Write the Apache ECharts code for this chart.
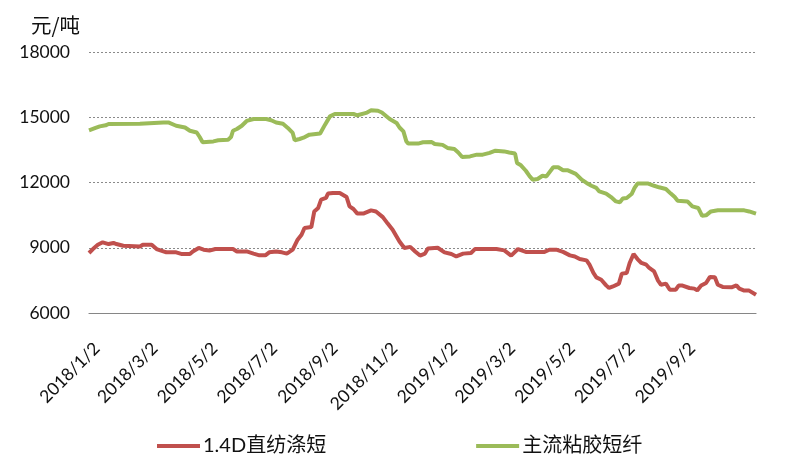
<!DOCTYPE html>
<html>
<head>
<meta charset="utf-8">
<script src="https://cdn.jsdelivr.net/npm/echarts@6/dist/echarts.min.js"></script>
<style>
html,body{margin:0;padding:0;background:#fff;}
#chart{width:787px;height:459px;}
</style>
</head>
<body>
<div id="chart"></div>
<script>
// ---- data ----
const axisStart = '2017/12/19';
const axisEnd = '2019/10/31';
const tickLabels = ['2018/1/2','2018/3/2','2018/5/2','2018/7/2','2018/9/2','2018/11/2','2019/1/2','2019/3/2','2019/5/2','2019/7/2','2019/9/2'];
const seriesNames = ['1.4D直纺涤短', '主流粘胶短纤'];
const yTicks = [6000, 9000, 12000, 15000, 18000];

const pscDates = [
 '2017/12/19','2017/12/23','2017/12/28','2018/1/2','2018/1/8','2018/1/13','2018/1/16','2018/1/23',
 '2018/2/9','2018/2/12','2018/2/21','2018/2/26','2018/3/8','2018/3/18','2018/3/24','2018/4/1',
 '2018/4/4','2018/4/10','2018/4/15','2018/4/21','2018/4/27','2018/5/15','2018/5/19','2018/5/29',
 '2018/6/5','2018/6/11','2018/6/17','2018/6/21','2018/6/28','2018/7/4','2018/7/9','2018/7/15',
 '2018/7/20','2018/7/24','2018/7/27','2018/8/3','2018/8/6','2018/8/10','2018/8/13','2018/8/18',
 '2018/8/20','2018/8/25','2018/9/1','2018/9/8','2018/9/11','2018/9/15','2018/9/19','2018/9/25',
 '2018/10/3','2018/10/8','2018/10/15','2018/10/20','2018/10/25','2018/11/1','2018/11/6','2018/11/12',
 '2018/11/17','2018/11/22','2018/11/27','2018/11/30','2018/12/10','2018/12/17','2018/12/24','2018/12/29',
 '2019/1/5','2019/1/13','2019/1/17','2019/2/8','2019/2/16','2019/2/23','2019/3/2','2019/3/10',
 '2019/3/29','2019/4/3','2019/4/10','2019/4/17','2019/4/24','2019/4/29','2019/5/4','2019/5/11',
 '2019/5/14','2019/5/18','2019/5/21','2019/5/26','2019/5/31','2019/6/3','2019/6/7','2019/6/13',
 '2019/6/16','2019/6/21','2019/6/24','2019/6/28','2019/7/2','2019/7/6','2019/7/11','2019/7/14',
 '2019/7/19','2019/7/23','2019/7/26','2019/7/31','2019/8/4','2019/8/10','2019/8/13','2019/8/17',
 '2019/8/24','2019/8/29','2019/9/1','2019/9/5','2019/9/10','2019/9/14','2019/9/19','2019/9/22',
 '2019/9/27','2019/10/6','2019/10/11','2019/10/14','2019/10/19','2019/10/24','2019/10/31'
];
const pscValues = [
 8760,8940,9140,9250,9170,9220,9170,9090,
 9060,9140,9140,8940,8790,8790,8710,8710,
 8830,8990,8910,8870,8940,8940,8830,8830,
 8730,8650,8650,8790,8830,8790,8730,8910,
 9370,9600,9910,9950,10670,10830,11210,11290,
 11490,11520,11520,11330,10900,10780,10570,10570,
 10720,10670,10410,10110,9830,9290,8990,9040,
 8830,8640,8730,8970,9000,8790,8710,8600,
 8730,8760,8940,8940,8880,8640,8940,8810,
 8810,8910,8910,8810,8650,8600,8480,8420,
 8220,7840,7640,7530,7270,7150,7220,7350,
 7810,7840,8300,8710,8480,8300,8220,8070,
 7910,7490,7300,7350,7070,7070,7260,7260,
 7150,7120,7040,7260,7380,7660,7640,7300,
 7200,7180,7270,7120,7030,7030,6840
];

const vsfDates = [
 '2017/12/19','2017/12/25','2017/12/30','2018/1/5','2018/1/8','2018/2/9','2018/3/5','2018/3/10',
 '2018/3/18','2018/3/27','2018/4/1','2018/4/8','2018/4/11','2018/4/14','2018/4/25','2018/4/30',
 '2018/5/10','2018/5/13','2018/5/15','2018/5/19','2018/5/24','2018/5/29','2018/6/5','2018/6/18',
 '2018/6/23','2018/6/28','2018/7/5','2018/7/10','2018/7/15','2018/7/17','2018/7/22','2018/7/26',
 '2018/8/1','2018/8/12','2018/8/17','2018/8/22','2018/8/27','2018/9/15','2018/9/19','2018/9/21',
 '2018/9/28','2018/10/3','2018/10/10','2018/10/14','2018/10/22','2018/10/29','2018/11/1','2018/11/5',
 '2018/11/8','2018/11/10','2018/11/20','2018/11/25','2018/12/4','2018/12/7','2018/12/15','2018/12/20',
 '2018/12/27','2018/12/31','2019/1/4','2019/1/12','2019/1/19','2019/1/25','2019/2/1','2019/2/7',
 '2019/2/16','2019/2/21','2019/2/27','2019/3/1','2019/3/5','2019/3/10','2019/3/14','2019/3/17',
 '2019/3/22','2019/3/27','2019/3/31','2019/4/7','2019/4/12','2019/4/17','2019/4/22','2019/4/30',
 '2019/5/6','2019/5/11','2019/5/16','2019/5/21','2019/5/24','2019/5/31','2019/6/5','2019/6/10',
 '2019/6/14','2019/6/17','2019/6/21','2019/6/26','2019/6/29','2019/7/2','2019/7/13','2019/7/19',
 '2019/7/24','2019/7/31','2019/8/5','2019/8/9','2019/8/12','2019/8/22','2019/8/27','2019/9/2',
 '2019/9/6','2019/9/10','2019/9/15','2019/9/22','2019/10/19','2019/10/24','2019/10/31'
];
const vsfValues = [
 14400,14500,14580,14630,14690,14700,14760,14760,
 14610,14530,14380,14300,14090,13850,13890,13940,
 13970,14090,14380,14460,14610,14830,14920,14920,
 14860,14760,14700,14510,14280,13940,14000,14060,
 14200,14250,14660,15040,15150,15150,15090,15170,
 15200,15320,15300,15220,14920,14740,14530,14350,
 13890,13790,13790,13850,13860,13770,13730,13590,
 13540,13380,13170,13200,13280,13280,13360,13460,
 13430,13380,13330,12900,12790,12540,12280,12130,
 12160,12310,12280,12700,12700,12560,12560,12400,
 12130,11980,11850,11750,11590,11490,11330,11130,
 11090,11260,11290,11470,11750,11950,11950,11850,
 11780,11700,11490,11330,11160,11130,10900,10830,
 10470,10490,10670,10720,10720,10670,10570
];

// ---- build categories (every calendar day) ----
function fmt(d){ return d.getFullYear() + '/' + (d.getMonth()+1) + '/' + d.getDate(); }
function parse(s){ const p = s.split('/').map(Number); return new Date(p[0], p[1]-1, p[2]); }
const categories = [];
for (let d = parse(axisStart); d <= parse(axisEnd); d.setDate(d.getDate()+1)) categories.push(fmt(d));

const zip = (ds, vs) => ds.map((d, i) => [d, vs[i]]);
const numFont = 'Lato, "Noto Sans CJK SC", sans-serif';

const chart = echarts.init(document.getElementById('chart'), null, {renderer: 'canvas'});
chart.setOption({
  animation: false,
  backgroundColor: '#ffffff',
  title: {
    text: '元/吨', left: 31, top: 15, padding: 0,
    textStyle: {fontSize: 20.5, fontWeight: 'normal', color: '#111', fontFamily: '"Noto Sans CJK SC", sans-serif'}
  },
  grid: {left: 89, right: 31, top: 52, bottom: 146, containLabel: false},
  legend: {
    left: 157, top: 436, padding: 0, itemWidth: 43, itemHeight: 4, itemGap: 150, icon: 'rect',
    data: seriesNames,
    textStyle: {fontSize: 20, color: '#111', fontFamily: numFont, padding: [0,0,0,-2]}
  },
  xAxis: {
    type: 'category', data: categories, boundaryGap: false,
    axisLine: {show: true, lineStyle: {color: '#868686', width: 1.2}},
    axisTick: {show: false},
    splitLine: {show: false},
    axisLabel: {
      rotate: 45, margin: 27, fontSize: 17.5, color: '#111', fontFamily: numFont,
      padding: [0, 8, 0, 0],
      interval: (idx, val) => tickLabels.includes(val)
    }
  },
  yAxis: {
    type: 'value', min: yTicks[0], max: yTicks[yTicks.length-1], interval: 3000,
    axisLine: {show: false}, axisTick: {show: false},
    axisLabel: {margin: 19, fontSize: 17.5, color: '#111', fontFamily: numFont,
      formatter: v => String(v)},
    splitLine: {show: true, lineStyle: {color: '#8a8a8a', type: [2, 2], width: 1}}
  },
  series: [
    {name: seriesNames[0], type: 'line', data: zip(pscDates, pscValues), showSymbol: false,
     lineStyle: {color: '#C0504D', width: 4}, itemStyle: {color: '#C0504D'}},
    {name: seriesNames[1], type: 'line', data: zip(vsfDates, vsfValues), showSymbol: false,
     lineStyle: {color: '#9BBB59', width: 4}, itemStyle: {color: '#9BBB59'}}
  ]
});
</script>
</body>
</html>
